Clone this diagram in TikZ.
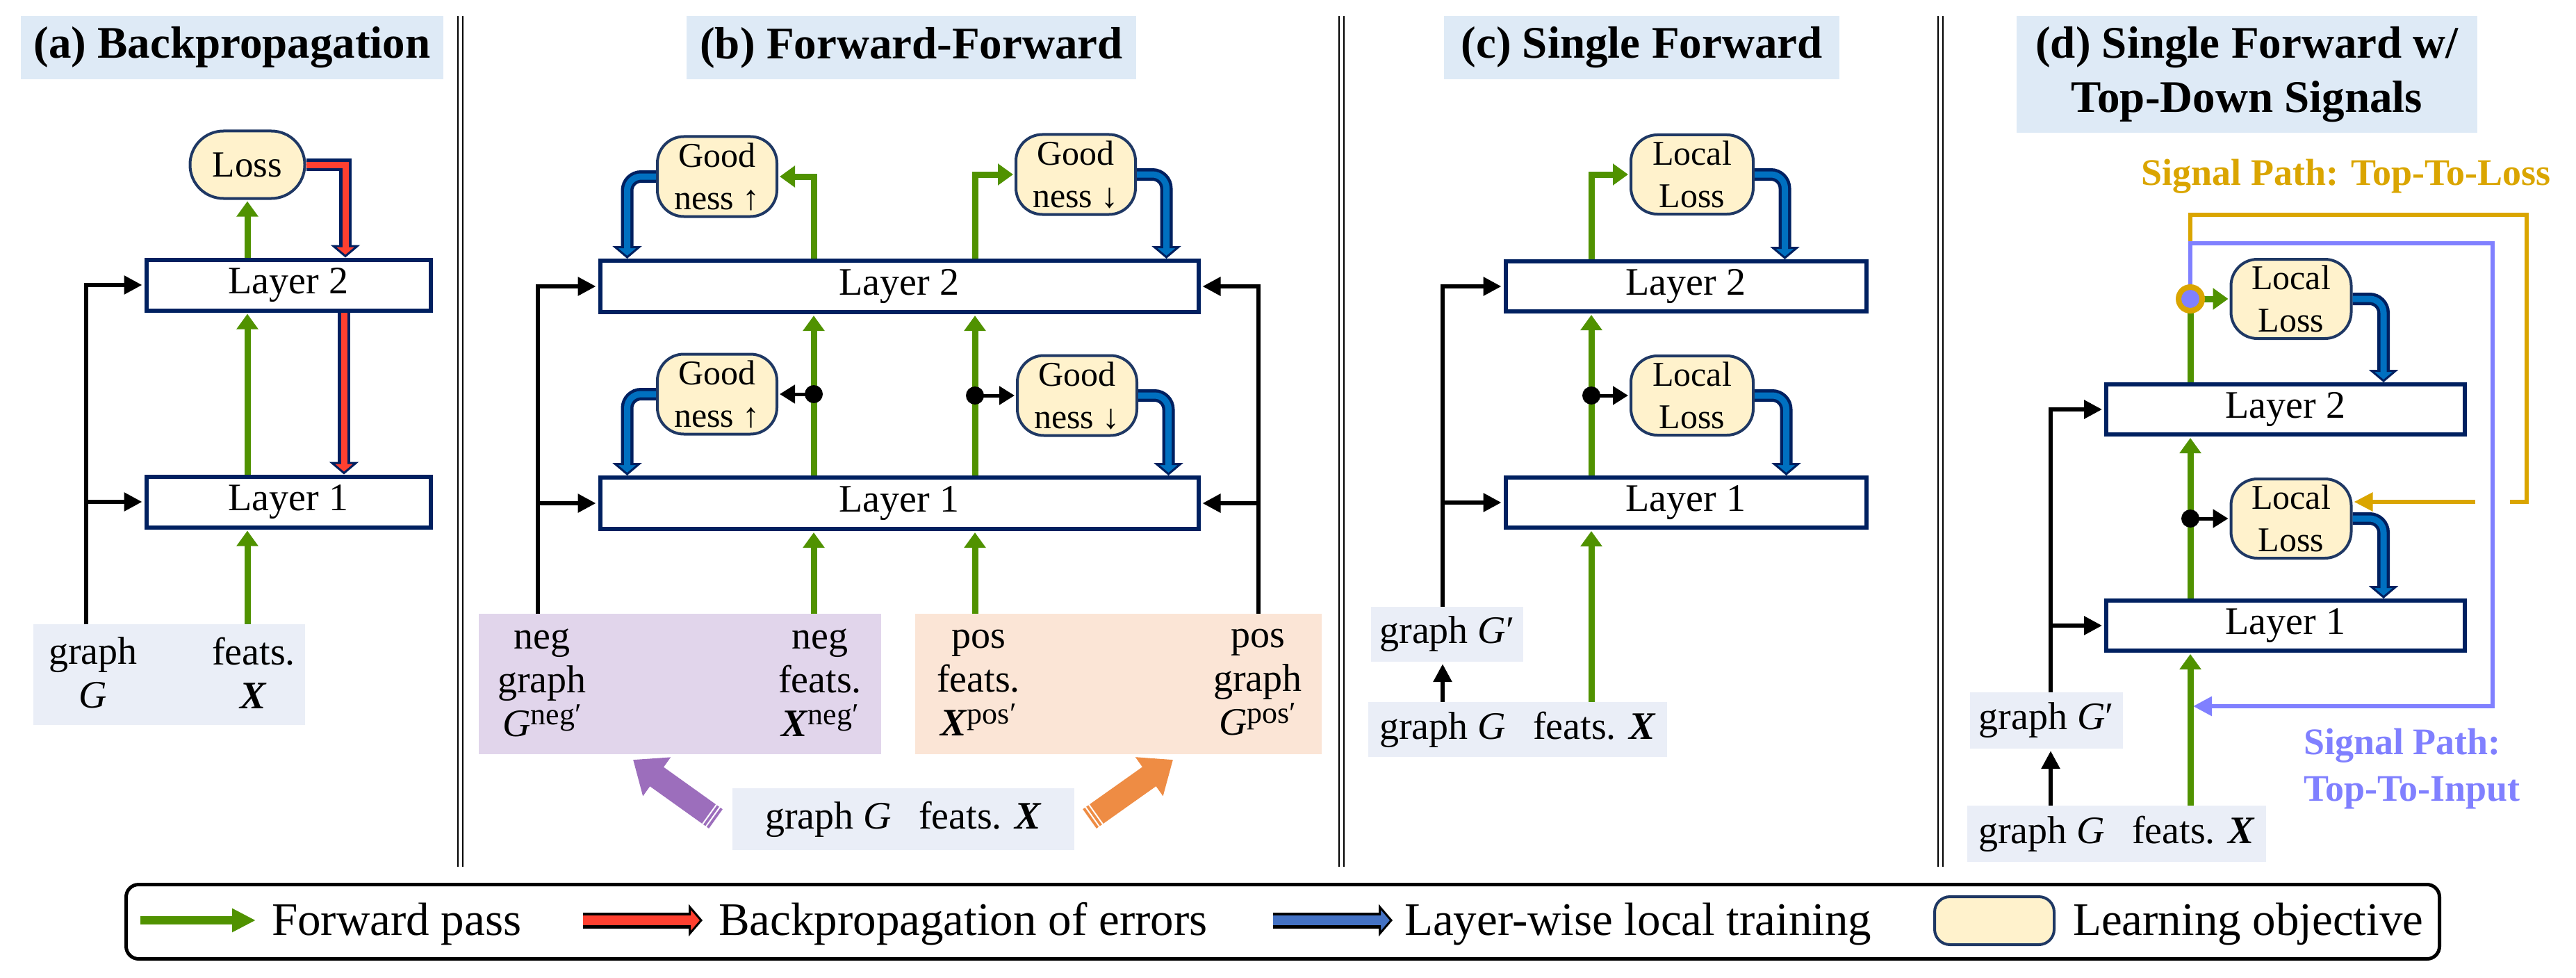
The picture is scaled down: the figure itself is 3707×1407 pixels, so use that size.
\documentclass[tikz,border=0pt]{standalone}
\usepackage{fontspec}
\setmainfont{Liberation Serif}
\usetikzlibrary{arrows.meta,calc}
\definecolor{navy}{RGB}{0,32,96}
\definecolor{objdraw}{RGB}{31,56,100}
\definecolor{objfill}{RGB}{255,242,204}
\definecolor{ttlfill}{RGB}{222,234,246}
\definecolor{infill}{RGB}{234,238,247}
\definecolor{negfill}{RGB}{225,213,235}
\definecolor{posfill}{RGB}{251,229,214}
\definecolor{fgreen}{RGB}{80,146,0}
\definecolor{bpred}{RGB}{255,64,48}
\definecolor{ltblue}{RGB}{0,112,192}
\definecolor{lgblue}{RGB}{68,114,196}
\definecolor{purparr}{RGB}{156,110,188}
\definecolor{orarr}{RGB}{238,140,68}
\definecolor{sgold}{RGB}{218,165,0}
\definecolor{sviolet}{RGB}{128,128,255}
\newcommand\fsz[2]{\fontsize{#1}{#2}\selectfont}
\newcommand\mysup[1]{\raisebox{17pt}{\fontsize{44}{44}\selectfont #1}}
\newcommand\dblarrow[4]{%
  \draw[draw=#1, line width=18pt, #3, -{Triangle[width=42pt,length=18pt,fill=#2,line width=3pt]}] #4;
  \draw[draw=#2, line width=9pt, #3, shorten >=10pt] #4;}
\newcommand\stripes[2]{%
  \foreach \d in {5,11}{
    \draw[white, line width=2pt] ($($(#1)!\d pt!(#2)$)!18pt!90:(#2)$) -- ($($(#1)!\d pt!(#2)$)!18pt!-90:(#2)$);}}
\begin{document}
\begin{tikzpicture}[x=1pt,y=-1pt,
  layer/.style={draw=navy, line width=6pt, fill=white, inner sep=0pt, font=\fsz{56}{62}},
  obj/.style={draw=objdraw, line width=4pt, fill=objfill, rounded corners=38pt, inner sep=0pt, align=center, font=\fsz{50}{61}, minimum width=172pt, minimum height=115pt},
  ttl/.style={fill=ttlfill, inner sep=0pt, align=center, font=\fsz{65}{78}\bfseries},
  inbox/.style={fill=infill, inner sep=0pt, font=\fsz{56}{62}},
  txt/.style={inner sep=0pt, align=center, font=\fsz{56}{63}},
  fwd/.style={draw=fgreen, line width=9pt, shorten >=2pt, -{Triangle[width=30pt,length=22pt]}},
  fwdl/.style={draw=fgreen, line width=9pt},
  blk/.style={draw=black, line width=6pt, shorten >=3pt, -{Triangle[width=26pt,length=26pt]}},
  dotarr/.style={draw=black, line width=5pt, shorten >=2pt, -{Triangle[width=26pt,length=22pt]}},
  sep/.style={draw=black, line width=2.5pt},
  gdl/.style={draw=sgold, line width=6pt},
  vil/.style={draw=sviolet, line width=6pt},
  lgt/.style={inner sep=0pt, font=\fsz{67}{75}}
]
\useasboundingbox (0,0) rectangle (3707,1407);

% separators
\foreach \sx in {659,666,1927,1934,2789,2796}{\draw[sep] (\sx,23) -- (\sx,1247);}

% ================= (a) =================
\node[ttl, minimum width=608pt, minimum height=91pt] (aT) at (334,68.5) {(a) Backpropagation};
\node[obj, minimum width=165pt, minimum height=97pt, rounded corners=48pt, font=\fsz{53}{60}] (aLoss) at (356,237) {Loss};
\node[layer, minimum width=409pt, minimum height=73pt] (aL2) at (415,410) {Layer 2};
\node[layer, minimum width=409pt, minimum height=73pt] (aL1) at (415,722) {Layer 1};
\node[inbox, minimum width=391pt, minimum height=145pt] (aIn) at (243.5,970.5) {};
\node[txt] (aG) at (134,968) {graph\\\textit{G}};
\node[txt] (aX) at (365,968) {feats.\\\textbf{\textit{X}}};
\draw[fwd] (aIn.north -| aLoss) -- (aL1.south -| aLoss);
\draw[fwd] (aL1.north -| aLoss) -- (aL2.south -| aLoss);
\draw[fwd] (aL2.north -| aLoss) -- (aLoss.south);
\dblarrow{navy}{bpred}{}{(aLoss.east) -| ($(aL2.north)+(82,0)$)}
\dblarrow{navy}{bpred}{}{($(aL2.south)+(80,0)$) -- ($(aL1.north)+(80,0)$)}
\coordinate (aGx) at (124,898);
\draw[blk] (aGx) |- (aL2.west);
\draw[blk] (aGx |- aL1.west) -- (aL1.west);

% ================= (b) =================
\node[ttl, minimum width=647pt, minimum height=91pt] (bT) at (1311.5,68.5) {(b) Forward-Forward};
\node[obj] (bGu1) at (1032,254) {Good\\ness ↑};
\node[obj] (bGd1) at (1548,251) {Good\\ness ↓};
\node[obj] (bGu2) at (1032,567) {Good\\ness ↑};
\node[obj] (bGd2) at (1550,569) {Good\\ness ↓};
\node[layer, minimum width=861pt, minimum height=74pt] (bL2) at (1294,412) {Layer 2};
\node[layer, minimum width=861pt, minimum height=74pt] (bL1) at (1294,724) {Layer 1};
\node[inbox, fill=negfill, minimum width=579pt, minimum height=202pt] (bNeg) at (978.5,984) {};
\node[inbox, fill=posfill, minimum width=585pt, minimum height=202pt] (bPos) at (1609.5,984) {};
\node[txt] (bNG) at (780,982) {neg\\graph\\\textit{G}\mysup{neg′}};
\node[txt] (bNX) at (1180,982) {neg\\feats.\\\textbf{\textit{X}}\mysup{neg′}};
\node[txt] (bPX) at (1408,982) {pos\\feats.\\\textbf{\textit{X}}\mysup{pos′}};
\node[txt] (bPG) at (1810,982) {pos\\graph\\\textit{G}\mysup{pos′}};
\node[inbox, minimum width=492pt, minimum height=89pt] (bIn) at (1300,1178.5) {graph \textit{G}\hspace{0.7em}feats. \textbf{\textit{X}}};
\coordinate (bxL) at (1171,0);
\coordinate (bxR) at (1403,0);
\draw[fwd] (bL2.north -| bxL) |- (bGu1.east);
\draw[fwd] (bL2.north -| bxR) |- (bGd1.west);
\draw[fwd] (bL1.north -| bxL) -- (bL2.south -| bxL);
\draw[fwd] (bL1.north -| bxR) -- (bL2.south -| bxR);
\draw[fwd] (bNeg.north -| bxL) -- (bL1.south -| bxL);
\draw[fwd] (bPos.north -| bxR) -- (bL1.south -| bxR);
\draw[dotarr] (bGu2.east -| bxL) -- (bGu2.east);
\fill (bGu2.east -| bxL) circle (13pt);
\draw[dotarr] (bGd2.west -| bxR) -- (bGd2.west);
\fill (bGd2.west -| bxR) circle (13pt);
\dblarrow{navy}{ltblue}{rounded corners=20pt}{(bGu1.west) -| ($(bL2.north west)+(42,0)$)}
\dblarrow{navy}{ltblue}{rounded corners=20pt}{(bGd1.east) -| ($(bL2.north east)+(-49,0)$)}
\dblarrow{navy}{ltblue}{rounded corners=20pt}{(bGu2.west) -| ($(bL1.north west)+(42,0)$)}
\dblarrow{navy}{ltblue}{rounded corners=20pt}{(bGd2.east) -| ($(bL1.north east)+(-46,0)$)}
\coordinate (bbL) at ($(bNeg.north west)+(85,0)$);
\draw[blk] (bbL) |- (bL2.west);
\draw[blk] (bbL |- bL1.west) -- (bL1.west);
\coordinate (bbR) at ($(bPos.north east)+(-91,0)$);
\draw[blk] (bbR) |- (bL2.east);
\draw[blk] (bbR |- bL1.east) -- (bL1.east);
\coordinate (pT) at (1030,1178);
\coordinate (pH) at (911,1093);
\draw[purparr, line width=34pt, -{Triangle[width=66pt,length=42pt]}] (pT) -- (pH);
\stripes{pT}{pH}
\coordinate (oT) at (1568,1178);
\coordinate (oH) at (1688,1093);
\draw[orarr, line width=34pt, -{Triangle[width=66pt,length=42pt]}] (oT) -- (oH);
\stripes{oT}{oH}

% ================= (c) =================
\node[ttl, minimum width=569pt, minimum height=91pt] (cT) at (2362.5,68.5) {(c) Single Forward};
\node[obj, minimum width=176pt, minimum height=114pt] (cLL1) at (2435,251) {Local\\Loss};
\node[obj, minimum width=176pt, minimum height=114pt] (cLL2) at (2435,569) {Local\\Loss};
\node[layer, minimum width=519pt, minimum height=72pt] (cL2) at (2426,412) {Layer 2};
\node[layer, minimum width=519pt, minimum height=72pt] (cL1) at (2426,723) {Layer 1};
\node[inbox, minimum width=219pt, minimum height=79pt] (cGp) at (2082.5,912.5) {graph \textit{G}′};
\node[inbox, minimum width=430pt, minimum height=79pt] (cIn) at (2184,1049.5) {graph \textit{G}\hspace{0.7em}feats. \textbf{\textit{X}}};
\coordinate (cx) at (2290,0);
\draw[fwd] (cL2.north -| cx) |- (cLL1.west);
\draw[fwd] (cL1.north -| cx) -- (cL2.south -| cx);
\draw[fwd] (cIn.north -| cx) -- (cL1.south -| cx);
\draw[dotarr] (cLL2.west -| cx) -- (cLL2.west);
\fill (cLL2.west -| cx) circle (13pt);
\dblarrow{navy}{ltblue}{rounded corners=20pt}{(cLL1.east) -| ($(cL2.north east)+(-120,0)$)}
\dblarrow{navy}{ltblue}{rounded corners=20pt}{(cLL2.east) -| ($(cL1.north east)+(-118,0)$)}
\coordinate (cbx) at (2076,0);
\draw[blk] (cGp.north -| cbx) |- (cL2.west);
\draw[blk] (cL1.west -| cbx) -- (cL1.west);
\draw[blk] (cIn.north -| cbx) -- (cGp.south -| cbx);

% ================= (d) =================
\node[ttl, minimum width=663pt, minimum height=168pt] (dT) at (3233.5,107) {(d) Single Forward w/\\Top-Down Signals};
\node[inner sep=0pt, font=\fsz{54}{60}\bfseries, text=sgold] (dSL) at (3376,254) {Signal Path: Top-To-Loss};
\node[obj, minimum width=173pt, minimum height=114pt] (dLL1) at (3297,430) {Local\\Loss};
\node[obj, minimum width=173pt, minimum height=114pt] (dLL2) at (3297,746) {Local\\Loss};
\node[layer, minimum width=516pt, minimum height=72pt] (dL2) at (3289,589) {Layer 2};
\node[layer, minimum width=516pt, minimum height=72pt] (dL1) at (3289,900) {Layer 1};
\node[inbox, minimum width=220pt, minimum height=81pt] (dGp) at (2945,1036.5) {graph \textit{G}′};
\node[inbox, minimum width=430pt, minimum height=81pt] (dIn) at (3046,1199.5) {graph \textit{G}\hspace{0.7em}feats. \textbf{\textit{X}}};
\node[inner sep=0pt, anchor=west, align=left, font=\fsz{54}{67}\bfseries, text=sviolet] (dSI) at (3315,1106) {Signal Path:\\Top-To-Input};
\coordinate (dx) at (3152,0);
\coordinate (dSig) at (3152,430);
\draw[fwdl] (dL2.north -| dx) -- (dSig);
\coordinate (dG1) at (3152,309);
\coordinate (dG2) at (3636,309);
\coordinate (dG3) at (3636,722);
\coordinate (dG4) at (3612,722);
\coordinate (dG5) at (3562,722);
\draw[gdl] (dSig) -- (dG1) -- (dG2) -- (dG3) -- (dG4);
\draw[gdl, shorten >=2pt, -{Triangle[width=26pt,length=27pt]}] (dG5) -- (dLL2.east |- dG5);
\coordinate (dV1) at (3152,350);
\coordinate (dV2) at (3587,350);
\coordinate (dV3) at (3587,1016);
\draw[vil, shorten >=4pt, -{Triangle[width=27pt,length=27pt]}] (dSig) -- (dV1) -- (dV2) -- (dV3) -- (dV3 -| dx);
\draw[fwd] (dSig) -- (dLL1.west);
\fill[sgold] (dSig) circle (21pt);
\fill[sviolet] (dSig) circle (13pt);
\draw[fwd] (dL1.north -| dx) -- (dL2.south -| dx);
\draw[fwd] (dIn.north -| dx) -- (dL1.south -| dx);
\draw[dotarr] (dLL2.west -| dx) -- (dLL2.west);
\fill (dLL2.west -| dx) circle (13pt);
\dblarrow{navy}{ltblue}{rounded corners=20pt}{(dLL1.east) -| ($(dL2.north east)+(-120,0)$)}
\dblarrow{navy}{ltblue}{rounded corners=20pt}{(dLL2.east) -| ($(dL1.north east)+(-120,0)$)}
\coordinate (dbx) at (2951,0);
\draw[blk] (dGp.north -| dbx) |- (dL2.west);
\draw[blk] (dL1.west -| dbx) -- (dL1.west);
\draw[blk] (dIn.north -| dbx) -- (dGp.south -| dbx);

% ================= legend =================
\node[draw=black, line width=5pt, rounded corners=18pt, minimum width=3329pt, minimum height=107pt, inner sep=0pt] (lg) at (1846,1326) {};
\coordinate (lgA1) at (202,1324);
\coordinate (lgA2) at (368,1324);
\draw[fgreen, line width=12pt, -{Triangle[width=32pt,length=34pt]}] (lgA1) -- (lgA2);
\node[lgt, anchor=base west] (lgT1) at (391,1345) {Forward pass};
\coordinate (lgB1) at (839,1324);
\coordinate (lgB2) at (1011,1324);
\draw[black, line width=23pt, -{Triangle[width=46pt,length=20pt,fill=bpred,line width=3pt]}] (lgB1) -- (lgB2);
\draw[bpred, line width=14pt, shorten >=12pt] (lgB1) -- (lgB2);
\node[lgt, anchor=base west] (lgT2) at (1034,1345) {Backpropagation of errors};
\coordinate (lgC1) at (1832,1324);
\coordinate (lgC2) at (2004,1324);
\draw[black, line width=23pt, -{Triangle[width=46pt,length=20pt,fill=lgblue,line width=3pt]}] (lgC1) -- (lgC2);
\draw[lgblue, line width=14pt, shorten >=12pt] (lgC1) -- (lgC2);
\node[lgt, anchor=base west] (lgT3) at (2021,1345) {Layer-wise local training};
\node[obj, minimum width=172pt, minimum height=69pt, rounded corners=22pt] (lgO) at (2870,1324.5) {};
\node[lgt, anchor=base west] (lgT4) at (2983,1345) {Learning objective};
\end{tikzpicture}
\end{document}
